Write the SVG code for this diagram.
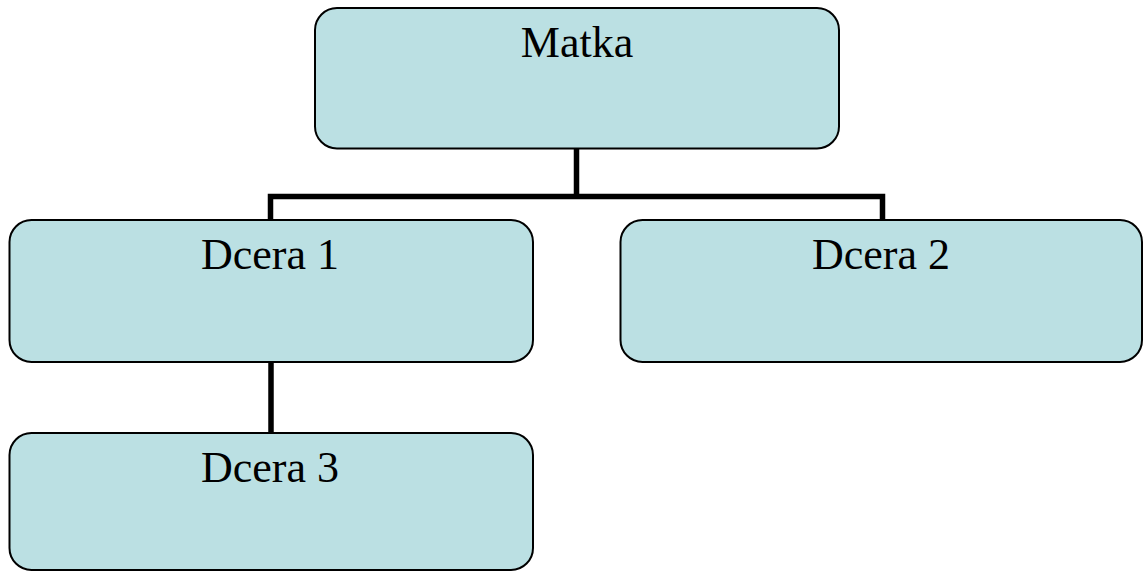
<svg xmlns="http://www.w3.org/2000/svg" width="1144" height="571" viewBox="0 0 1144 571">
<style>
.box{fill:#BBE0E3;stroke:#000;stroke-width:2}
.lbl{font-family:"Liberation Serif","Times New Roman",serif;font-size:44px;fill:#000;text-anchor:middle}
.con{fill:none;stroke:#000;stroke-width:5.5;stroke-linejoin:miter}
</style>
<rect width="1144" height="571" fill="#fff"/>
<g id="connectors">
<path class="con" d="M576.5 148 V196.5 M270.5 221 V196.5 H882.5 V221"/>
<path class="con" d="M271 362 V434"/>
</g>
<g id="matka">
<rect class="box" x="315" y="8" width="524" height="140.5" rx="22" ry="22"/>
<text class="lbl" x="577" y="57">Matka</text>
</g>
<g id="dcera1">
<rect class="box" x="9.5" y="220" width="523.5" height="142" rx="22" ry="22"/>
<text class="lbl" x="270" y="269">Dcera 1</text>
</g>
<g id="dcera2">
<rect class="box" x="620.5" y="220" width="521.5" height="142" rx="22" ry="22"/>
<text class="lbl" x="881" y="269">Dcera 2</text>
</g>
<g id="dcera3">
<rect class="box" x="9.5" y="433" width="523.5" height="137" rx="22" ry="22"/>
<text class="lbl" x="270" y="482">Dcera 3</text>
</g>
</svg>
